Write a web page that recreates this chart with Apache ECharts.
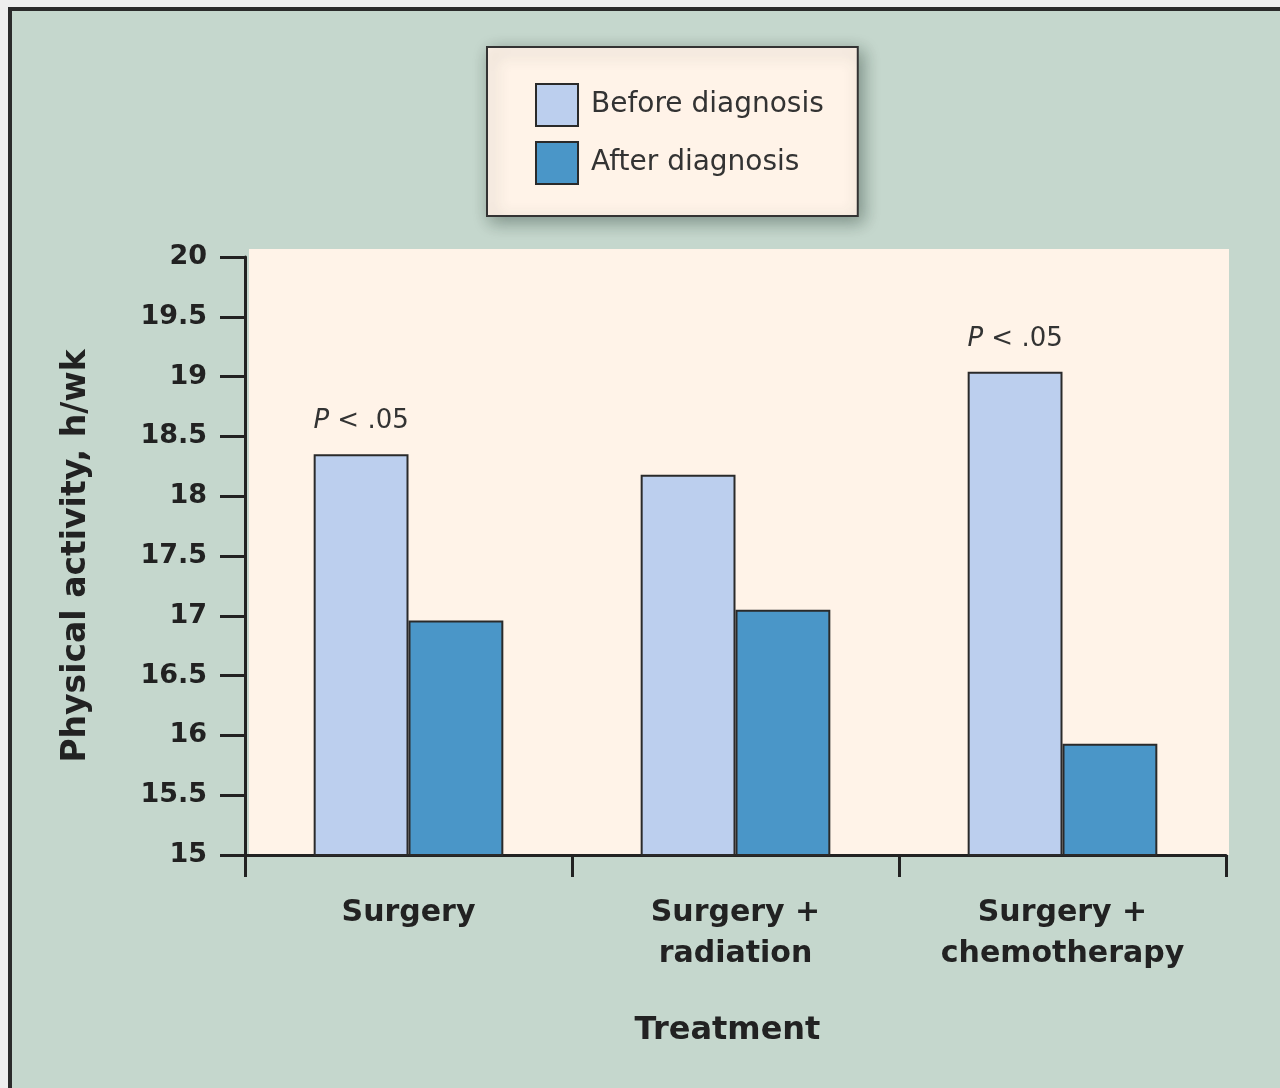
<!DOCTYPE html>
<html>
<head>
<meta charset="utf-8">
<title>Physical activity by treatment</title>
<script src="https://cdn.jsdelivr.net/npm/echarts@6/dist/echarts.min.js"></script>
<style>
  html, body {
    margin: 0;
    padding: 0;
    width: 1280px;
    height: 1088px;
    overflow: hidden;
    background: #eeeeee;
  }
  /* outer frame, only left and top edges fall inside the picture */
  .frame {
    position: absolute;
    left: 8px;
    top: 7px;
    width: 1300px;
    height: 1110px;
    border: 4px solid #2a2a2a;
    background: #c5d7cd;
  }
  #chart {
    position: absolute;
    left: 0;
    top: 0;
    width: 1280px;
    height: 1088px;
  }
</style>
</head>
<body>
<div class="frame"></div>
<div id="chart"></div>
<script>
// data
const categories = ['Surgery', 'Surgery +\nradiation', 'Surgery +\nchemotherapy'];
const beforeDiagnosis = [18.35, 18.18, 19.04];
const afterDiagnosis = [16.96, 17.05, 15.93];
const pNotes = ['P < .05', '', 'P < .05'];
const yTicks = { min: 15, max: 20, step: 0.5 };

const FONT = '"DejaVu Sans", sans-serif';
const INK = '#222222';

const chart = echarts.init(document.getElementById('chart'));

// before-diagnosis bars carry the P note above them
const beforeData = beforeDiagnosis.map((v, i) => ({
  value: v,
  label: {
    show: pNotes[i] !== '',
    position: 'top',
    distance: 20,
    formatter: pNotes[i].replace(/^P/, '{i|P}'),
    fontFamily: FONT,
    fontSize: 26,
    color: '#333333',
    rich: { i: { fontStyle: 'italic', fontFamily: FONT, fontSize: 26, color: '#333333' } }
  }
}));

const option = {
  animation: false,
  backgroundColor: 'transparent',
  graphic: [
    {
      // plot panel
      type: 'rect',
      z: -10,
      silent: true,
      shape: { x: 249, y: 249, width: 980, height: 606 },
      style: { fill: '#fff3e8' }
    }
  ],
  legend: {
    orient: 'vertical',
    left: 487,
    top: 47,
    padding: [36, 34, 31, 48],
    itemWidth: 42,
    itemHeight: 42,
    itemGap: 14,
    icon: 'rect',
    backgroundColor: '#fff3e8',
    borderColor: '#333333',
    borderWidth: 2,
    shadowBlur: 16,
    shadowColor: 'rgba(40,60,50,0.45)',
    shadowOffsetX: 4,
    shadowOffsetY: 5,
    textStyle: { fontFamily: FONT, fontSize: 28, color: '#333333', padding: [0, 0, 0, 8] },
    data: ['Before diagnosis', 'After diagnosis']
  },
  grid: {
    left: 245,
    right: 54,
    top: 257,
    bottom: 233,
    containLabel: false
  },
  xAxis: {
    type: 'category',
    data: categories,
    boundaryGap: true,
    axisLine: { lineStyle: { color: INK, width: 3 } },
    axisTick: { show: true, alignWithLabel: false, length: 22, lineStyle: { color: INK, width: 3 } },
    axisLabel: {
      interval: 0,
      margin: 38,
      fontFamily: FONT,
      fontSize: 30,
      fontWeight: 'bold',
      lineHeight: 41,
      color: INK
    },
    name: 'Treatment',
    nameLocation: 'middle',
    nameGap: 160,
    nameTextStyle: { fontFamily: FONT, fontSize: 32, fontWeight: 'bold', color: INK, padding: [0, 16, 0, 0] }
  },
  yAxis: {
    type: 'value',
    min: yTicks.min,
    max: yTicks.max,
    interval: yTicks.step,
    splitLine: { show: false },
    axisLine: { show: true, lineStyle: { color: INK, width: 3 } },
    axisTick: { show: true, length: 25, lineStyle: { color: INK, width: 3 } },
    axisLabel: {
      margin: 38,
      fontFamily: FONT,
      fontSize: 27,
      fontWeight: 'bold',
      color: INK
    },
    name: 'Physical activity, h/wk',
    nameLocation: 'middle',
    nameGap: 152,
    nameRotate: 90,
    nameTextStyle: { fontFamily: FONT, fontSize: 33, fontWeight: 'bold', color: INK }
  },
  series: [
    {
      name: 'Before diagnosis',
      type: 'bar',
      barGap: '0%',
      barCategoryGap: '42%',
      itemStyle: { color: '#bccfee', borderColor: '#2a2a2a', borderWidth: 2 },
      data: beforeData
    },
    {
      name: 'After diagnosis',
      type: 'bar',
      itemStyle: { color: '#4a96c8', borderColor: '#2a2a2a', borderWidth: 2 },
      data: afterDiagnosis
    }
  ]
};

chart.setOption(option);
</script>
</body>
</html>
